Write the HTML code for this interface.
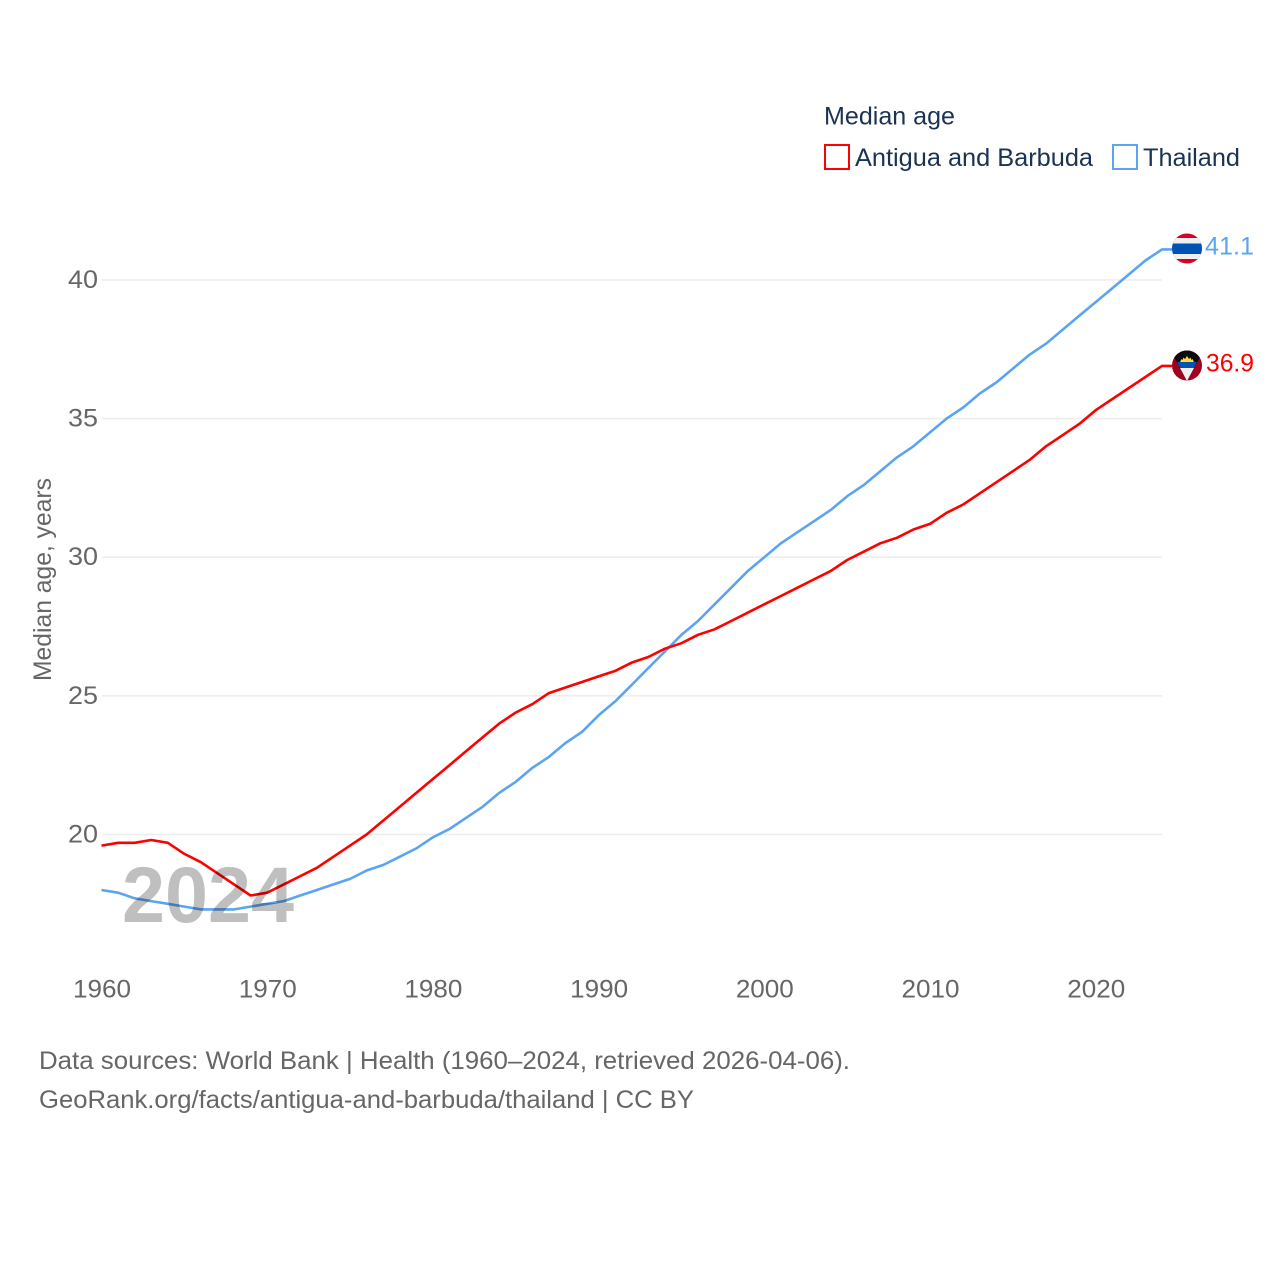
<!DOCTYPE html>
<html lang="en">
<head>
<meta charset="utf-8">
<title>Median age: Antigua and Barbuda vs Thailand</title>
<style>
html,body{margin:0;padding:0;background:#fff;width:1280px;height:1280px;overflow:hidden}
svg{display:block}
text{font-family:"Liberation Sans",sans-serif;font-weight:400}
</style>
</head>
<body>
<svg id="chart" xmlns="http://www.w3.org/2000/svg" width="1280" height="1280" viewBox="0 0 1280 1280">
  <rect width="1280" height="1280" fill="#fff"/>
  <g id="grid"></g>
  <g id="yticks"></g>
  <g id="xticks"></g>
  <g id="series"></g>

  <text x="122" y="922" font-size="79" style="font-weight:700" fill="#000" fill-opacity="0.25" textLength="172" lengthAdjust="spacingAndGlyphs">2024</text>

  <text transform="translate(51 681) rotate(-90)" font-size="25" fill="#666" textLength="203" lengthAdjust="spacingAndGlyphs">Median age, years</text>

  <g>
    <text x="824" y="124.5" font-size="25" fill="#1a3353" textLength="131" lengthAdjust="spacingAndGlyphs">Median age</text>
    <rect x="825" y="145" width="24" height="24" fill="none" stroke="#ff0000" stroke-width="2"/>
    <text x="855" y="166" font-size="25" fill="#1a3353" textLength="238" lengthAdjust="spacingAndGlyphs">Antigua and Barbuda</text>
    <rect x="1113" y="145" width="24" height="24" fill="none" stroke="#5ba4f0" stroke-width="2"/>
    <text x="1143" y="166" font-size="25" fill="#1a3353" textLength="97" lengthAdjust="spacingAndGlyphs">Thailand</text>
  </g>

  <defs>
    <clipPath id="clip-th"><circle cx="1187" cy="248.5" r="15"/></clipPath>
    <clipPath id="clip-ag"><circle cx="1187" cy="365.5" r="15"/></clipPath>
  </defs>
  <g clip-path="url(#clip-th)">
    <rect x="1172" y="233" width="30" height="31" fill="#d80027"/>
    <rect x="1172" y="238" width="30" height="21" fill="#f0f0f0"/>
    <rect x="1172" y="243.5" width="30" height="10.5" fill="#0052b4"/>
  </g>
  <g clip-path="url(#clip-ag)">
    <rect x="1172" y="350" width="30" height="32" fill="#a2001d"/>
    <polygon points="1170,350 1204,350 1187,381" fill="#0a0a0a"/>
    <path d="M1180,362 l1.5,-3 l1,1 l1,-2.5 l1.5,1.5 l2,-3 l2,3 l1.5,-1.5 l1,2.5 l1,-1 l1.5,3 z" fill="#ffda44"/>
    <polygon points="1177,362 1197,362 1194,368 1180,368" fill="#0052b4"/>
    <polygon points="1180,368 1194,368 1187,381" fill="#f0f0f0"/>
  </g>
  <text x="1205" y="254.5" font-size="25" fill="#5ba4f0" textLength="49" lengthAdjust="spacingAndGlyphs">41.1</text>
  <text x="1206" y="371.5" font-size="25" fill="#ff0000" textLength="48" lengthAdjust="spacingAndGlyphs">36.9</text>

  <text x="39" y="1069" font-size="25" fill="#666" textLength="811" lengthAdjust="spacingAndGlyphs">Data sources: World Bank | Health (1960–2024, retrieved 2026-04-06).</text>
  <text x="39" y="1108" font-size="25" fill="#666" textLength="655" lengthAdjust="spacingAndGlyphs">GeoRank.org/facts/antigua-and-barbuda/thailand | CC BY</text>
</svg>
<script>
const years = [1960,1961,1962,1963,1964,1965,1966,1967,1968,1969,1970,1971,1972,1973,1974,1975,1976,1977,1978,1979,1980,1981,1982,1983,1984,1985,1986,1987,1988,1989,1990,1991,1992,1993,1994,1995,1996,1997,1998,1999,2000,2001,2002,2003,2004,2005,2006,2007,2008,2009,2010,2011,2012,2013,2014,2015,2016,2017,2018,2019,2020,2021,2022,2023,2024];
const antiguaValues = [19.6,19.7,19.7,19.8,19.7,19.3,19.0,18.6,18.2,17.8,17.9,18.2,18.5,18.8,19.2,19.6,20.0,20.5,21.0,21.5,22.0,22.5,23.0,23.5,24.0,24.4,24.7,25.1,25.3,25.5,25.7,25.9,26.2,26.4,26.7,26.9,27.2,27.4,27.7,28.0,28.3,28.6,28.9,29.2,29.5,29.9,30.2,30.5,30.7,31.0,31.2,31.6,31.9,32.3,32.7,33.1,33.5,34.0,34.4,34.8,35.3,35.7,36.1,36.5,36.9];
const thailandValues = [18.0,17.9,17.7,17.6,17.5,17.4,17.3,17.3,17.3,17.4,17.5,17.6,17.8,18.0,18.2,18.4,18.7,18.9,19.2,19.5,19.9,20.2,20.6,21.0,21.5,21.9,22.4,22.8,23.3,23.7,24.3,24.8,25.4,26.0,26.6,27.2,27.7,28.3,28.9,29.5,30.0,30.5,30.9,31.3,31.7,32.2,32.6,33.1,33.6,34.0,34.5,35.0,35.4,35.9,36.3,36.8,37.3,37.7,38.2,38.7,39.2,39.7,40.2,40.7,41.1];
const yTickValues = [20,25,30,35,40];
const xTickValues = [1960,1970,1980,1990,2000,2010,2020];

const NS = 'http://www.w3.org/2000/svg';
function xScale(year){ return 101.5 + (year - 1960) * (1162 - 101.5) / 64; }
function yScale(value){ return 834.5 - (value - 20) * 27.73; }

function drawGrid(){
  const grid = document.getElementById('grid');
  const yticks = document.getElementById('yticks');
  yTickValues.forEach(function(v){
    const line = document.createElementNS(NS,'line');
    
    
    line.setAttribute('x1', 102);
    line.setAttribute('x2', 1162);
    line.setAttribute('y1', yScale(v));
    line.setAttribute('y2', yScale(v));
    line.setAttribute('stroke', '#eeeeee');
    line.setAttribute('stroke-width', '1.6');
    grid.appendChild(line);
    const t = document.createElementNS(NS,'text');
    
    
    t.setAttribute('x', 68);
    t.setAttribute('y', yScale(v) + 8);
    t.setAttribute('font-size', '25');
    t.setAttribute('fill', '#666');
    t.setAttribute('textLength', '30');
    t.setAttribute('lengthAdjust', 'spacingAndGlyphs');
    t.textContent = String(v);
    yticks.appendChild(t);
  });
}

function drawXTicks(){
  const g = document.getElementById('xticks');
  xTickValues.forEach(function(yr){
    const t = document.createElementNS(NS,'text');
    
    
    t.setAttribute('x', xScale(yr) - 28.5);
    t.setAttribute('y', 997.5);
    t.setAttribute('font-size', '25');
    t.setAttribute('fill', '#666');
    t.setAttribute('textLength', '58');
    t.setAttribute('lengthAdjust', 'spacingAndGlyphs');
    t.textContent = String(yr);
    g.appendChild(t);
  });
}

function drawLine(values, color, name){
  const g = document.getElementById('series');
  const pts = values.map(function(v,i){ return xScale(years[i]).toFixed(1) + ',' + yScale(v).toFixed(1); });
  const last = values[values.length - 1];
  pts.push((xScale(years[years.length - 1]) + 10).toFixed(1) + ',' + yScale(last).toFixed(1));
  const p = document.createElementNS(NS,'polyline');
  
  
  p.setAttribute('points', pts.join(' '));
  p.setAttribute('fill', 'none');
  p.setAttribute('stroke', color);
  p.setAttribute('stroke-width', '2.6');
  p.setAttribute('stroke-linejoin', 'round');
  g.appendChild(p);
}

drawGrid();
drawXTicks();
drawLine(thailandValues, '#5ba4f0', 'thailand-line');
drawLine(antiguaValues, '#ff0000', 'antigua-line');
</script>
</body>
</html>
